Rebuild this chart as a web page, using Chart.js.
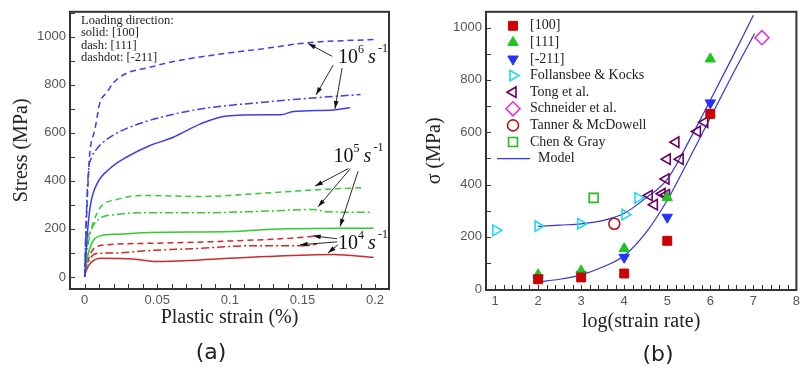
<!DOCTYPE html>
<html>
<head>
<meta charset="utf-8">
<script src="https://cdn.jsdelivr.net/npm/chart.js@4/dist/chart.umd.min.js"></script>
<style>
  html, body { margin: 0; padding: 0; background: #fff; }
  #wrap { position: relative; width: 805px; height: 369px; overflow: hidden; }
  canvas { position: absolute; top: 0; }
</style>
</head>
<body>
<div id="wrap">
  <canvas id="chartA" width="405" height="369" style="left:0"></canvas>
  <canvas id="chartB" width="400" height="369" style="left:405px"></canvas>
</div>
<script>
// ---- panel (a): stress vs plastic strain ----
const strainMajor = [0, 0.05, 0.1, 0.15, 0.2];
const stressMajor = [0, 200, 400, 600, 800, 1000];

const blueDashX = [0, 0.001, 0.0025, 0.0034, 0.0071, 0.0105, 0.0152, 0.0197, 0.029, 0.0427, 0.061, 0.0886, 0.125, 0.153, 0.199];
const blueDashY = [0, 200, 410, 506, 615, 725, 766, 807, 848, 869, 896, 923, 951, 974, 988];
const blueDashdotX = [0, 0.001, 0.0025, 0.005, 0.008, 0.0105, 0.0197, 0.0335, 0.0519, 0.079, 0.125, 0.16, 0.19];
const blueDashdotY = [0, 230, 430, 500, 530, 548, 590, 629, 663, 698, 728, 746, 759];
const blueSolidX = [0, 0.002, 0.004, 0.0083, 0.0174, 0.029, 0.045, 0.061, 0.0794, 0.0978, 0.125, 0.135, 0.1437, 0.1713, 0.1828];
const blueSolidY = [0, 190, 300, 385, 451, 499, 547, 581, 636, 670, 675, 675, 688, 695, 704];

const greenDashX = [0, 0.0014, 0.0048, 0.0105, 0.022, 0.0404, 0.0794, 0.125, 0.16, 0.193];
const greenDashY = [0, 123, 205, 287, 322, 339, 335, 349, 363, 372];
const greenDashdotX = [0, 0.002, 0.004, 0.0083, 0.022, 0.04, 0.079, 0.125, 0.1575, 0.167, 0.198];
const greenDashdotY = [0, 120, 185, 233, 260, 267, 267, 274, 281, 271, 269];
const greenSolidX = [0, 0.0014, 0.0037, 0.0105, 0.022, 0.045, 0.102, 0.125, 0.199];
const greenSolidY = [0, 62, 123, 171, 178, 185, 189, 198, 203];

const redDashX = [0, 0.003, 0.0059, 0.0152, 0.045, 0.102, 0.148, 0.16];
const redDashY = [20, 80, 116, 134, 140, 150, 164, 171];
const redDashdotX = [0, 0.003, 0.0083, 0.022, 0.045, 0.079, 0.114, 0.152, 0.16];
const redDashdotY = [20, 70, 98, 100, 110, 119, 130, 130, 137];
const redSolidX = [0, 0.003, 0.0059, 0.0105, 0.0335, 0.0496, 0.0794, 0.125, 0.171, 0.199];
const redSolidY = [10, 50, 68, 78, 75, 64, 71, 85, 93, 82];

const loadingNotes = ['Loading direction:', 'solid: [100]', 'dash: [111]', 'dashdot: [-211]'];
const rateExps = ['6', '5', '4'];
const rateLabelAt = [[0.1745, 889], [0.1713, 479], [0.1745, 116]];
// arrows: [fromX, fromY, toX, toY] in data units
const rateArrows = [
  [0.1704, 918, 0.1539, 971], [0.1711, 881, 0.1594, 758], [0.1773, 869, 0.1724, 700],
  [0.1816, 451, 0.1587, 378], [0.1830, 451, 0.1608, 292], [0.1883, 440, 0.1759, 210],
  [0.1738, 159, 0.1573, 171], [0.1738, 146, 0.1483, 134], [0.1745, 134, 0.1676, 100]
];

// ---- panel (b): flow stress vs log(strain rate) ----
const rateMajor = [1, 2, 3, 4, 5, 6, 7, 8];
const sigmaMajor = [0, 200, 400, 600, 800, 1000];

const s100X = [2, 3, 4, 5, 6];
const s100Y = [38, 45, 60, 185, 670];
const s111X = [2, 3, 4, 5, 6];
const s111Y = [55, 70, 155, 350, 880];
const s211X = [2, 3, 4, 5, 6];
const s211Y = [42, 55, 122, 275, 712];
const follX = [1.02, 2.0, 2.99, 4.02, 4.32];
const follY = [225, 241, 250, 285, 349];
const tongX = [4.58, 4.7, 4.88, 4.98, 4.97, 5.0, 5.2, 5.3, 5.7, 5.87];
const tongY = [358, 323, 365, 361, 421, 497, 562, 497, 603, 638];
const schnX = [7.2];
const schnY = [961];
const tannerX = [3.77];
const tannerY = [250];
const chenX = [3.29];
const chenY = [349];
const modelUpX = [2, 2.5, 3, 3.5, 4, 4.5, 5, 5.5, 6, 6.5, 7];
const modelUpY = [240, 245, 250, 262, 290, 348, 420, 565, 722, 882, 1047];
const modelLoX = [2, 2.5, 3, 3.5, 4, 4.5, 5, 5.5, 6, 6.5, 7.03];
const modelLoY = [28, 38, 55, 85, 128, 215, 340, 495, 655, 815, 977];

const pts = (xs, ys) => xs.map((x, i) => ({ x, y: ys[i] }));

const serif = '"Liberation Serif", "Times New Roman", serif';
const tickFont = { family: '"Liberation Sans", Arial, sans-serif', size: 13 };
const BLUE = '#3c3cf0', GREEN = '#2ecc2e', RED = '#cc2a2a';
const DASH = [6, 4], DASHDOT = [8, 3, 2, 3];

function tickList(min, max, step) {
  const out = [];
  for (let i = Math.round(min / step); i * step <= max + 1e-9; i++) out.push(Math.round(i * step * 1000) / 1000);
  return out;
}

// box + inward ticks on left and bottom axes
const frame = {
  id: 'frame',
  afterDatasetsDraw(chart) {
    const { ctx, chartArea: a, scales: { x, y } } = chart;
    ctx.save();
    ctx.strokeStyle = '#333';
    ctx.lineWidth = 1;
    ctx.beginPath();
    x.ticks.forEach(t => {
      const px = Math.round(x.getPixelForValue(t.value)) + 0.5;
      ctx.moveTo(px, a.bottom);
      ctx.lineTo(px, a.bottom - 5);
    });
    y.ticks.forEach(t => {
      const py = Math.round(y.getPixelForValue(t.value)) + 0.5;
      ctx.moveTo(a.left, py);
      ctx.lineTo(a.left + 5, py);
    });
    ctx.stroke();
    ctx.lineWidth = 2;
    ctx.strokeRect(a.left, a.top, a.right - a.left, a.bottom - a.top);
    ctx.restore();
  }
};

const panelLabel = {
  id: 'panelLabel',
  afterDraw(chart, args, opts) {
    const { ctx } = chart;
    ctx.save();
    ctx.fillStyle = '#222';
    ctx.font = '22px "DejaVu Sans", sans-serif';
    ctx.textAlign = 'center';
    ctx.textBaseline = 'middle';
    ctx.fillText(opts.text, opts.x, opts.y);
    ctx.restore();
  }
};

function arrow(ctx, x1, y1, x2, y2) {
  const ang = Math.atan2(y2 - y1, x2 - x1);
  ctx.beginPath();
  ctx.moveTo(x1, y1);
  ctx.lineTo(x2, y2);
  ctx.stroke();
  ctx.beginPath();
  ctx.moveTo(x2, y2);
  ctx.lineTo(x2 - 8 * Math.cos(ang - 0.3), y2 - 8 * Math.sin(ang - 0.3));
  ctx.lineTo(x2 - 8 * Math.cos(ang + 0.3), y2 - 8 * Math.sin(ang + 0.3));
  ctx.closePath();
  ctx.fill();
}

const notesA = {
  id: 'notesA',
  afterDatasetsDraw(chart) {
    const { ctx, chartArea: a, scales: { x, y } } = chart;
    ctx.save();
    ctx.fillStyle = '#222';
    ctx.font = '12.5px ' + serif;
    ctx.textBaseline = 'middle';
    loadingNotes.forEach((t, i) => ctx.fillText(t, a.left + 11, a.top + 9 + i * 12.3));

    ctx.strokeStyle = '#111';
    ctx.fillStyle = '#111';
    ctx.lineWidth = 0.9;
    rateArrows.forEach(r => arrow(ctx, x.getPixelForValue(r[0]), y.getPixelForValue(r[1]),
      x.getPixelForValue(r[2]), y.getPixelForValue(r[3])));

    ctx.textBaseline = 'alphabetic';
    rateExps.forEach((e, i) => {
      const px = x.getPixelForValue(rateLabelAt[i][0]);
      const py = y.getPixelForValue(rateLabelAt[i][1]);
      ctx.font = '20px ' + serif;
      ctx.fillText('10', px, py);
      ctx.font = '12px ' + serif;
      ctx.fillText(e, px + 20, py - 10);
      ctx.font = 'italic 20px ' + serif;
      ctx.fillText('s', px + 30, py);
      ctx.font = '12px ' + serif;
      ctx.fillText('-1', px + 40, py - 11);
    });
    ctx.restore();
  }
};

const legendB = {
  id: 'legendB',
  afterDatasetsDraw(chart) {
    const { ctx, chartArea: a } = chart;
    ctx.save();
    ctx.font = '14px ' + serif;
    ctx.textBaseline = 'middle';
    chart.data.datasets.filter(d => !d.hideInLegend).forEach((ds, i) => {
      const cy = a.top + 14 + i * 16.6;
      const mx = a.left + 27;
      if (ds.showLine) {
        ctx.strokeStyle = ds.borderColor;
        ctx.lineWidth = 1.2;
        ctx.beginPath();
        ctx.moveTo(a.left + 11, cy);
        ctx.lineTo(a.left + 44, cy);
        ctx.stroke();
        ctx.fillStyle = '#222';
        ctx.fillText(ds.label, a.left + 52, cy);
        return;
      }
      ctx.strokeStyle = ds.borderColor;
      ctx.fillStyle = ds.pointBackgroundColor;
      ctx.lineWidth = ds.borderWidth;
      Chart.helpers.drawPoint(ctx, {
        pointStyle: ds.pointStyle, rotation: ds.pointRotation || 0,
        radius: ds.pointRadius, borderWidth: ds.borderWidth
      }, mx, cy);
      ctx.fillStyle = '#222';
      ctx.fillText(ds.label, a.left + 44, cy);
    });
    ctx.restore();
  }
};

function lineSet(xs, ys, color, dash) {
  return { data: pts(xs, ys), borderColor: color, borderWidth: 1.5, borderDash: dash,
           pointRadius: 0, fill: false, cubicInterpolationMode: 'monotone' };
}

new Chart(document.getElementById('chartA'), {
  type: 'line',
  data: {
    datasets: [
      lineSet(blueDashX, blueDashY, BLUE, DASH),
      lineSet(blueDashdotX, blueDashdotY, BLUE, DASHDOT),
      lineSet(blueSolidX, blueSolidY, BLUE, []),
      lineSet(greenDashX, greenDashY, GREEN, DASH),
      lineSet(greenDashdotX, greenDashdotY, GREEN, DASHDOT),
      lineSet(greenSolidX, greenSolidY, GREEN, []),
      lineSet(redDashX, redDashY, RED, DASH),
      lineSet(redDashdotX, redDashdotY, RED, DASHDOT),
      lineSet(redSolidX, redSolidY, RED, [])
    ]
  },
  options: {
    responsive: false,
    animation: false,
    layout: { padding: { left: 0, top: 8, right: 16, bottom: 0 } },
    plugins: {
      legend: { display: false },
      tooltip: { enabled: false },
      panelLabel: { text: '(a)', x: 211, y: 353 }
    },
    scales: {
      x: {
        type: 'linear', min: -0.0101, max: 0.2096,
        grid: { display: false, drawTicks: false },
        border: { display: false },
        afterBuildTicks: s => { s.ticks = tickList(0, 0.2, 0.01).map(value => ({ value })); },
        afterFit: s => { s.height = 80; },
        ticks: { autoSkip: false, maxRotation: 0, padding: 4, color: '#555', font: tickFont,
                 callback: v => strainMajor.includes(v) ? String(v) : '' },
        title: { display: true, text: 'Plastic strain (%)', color: '#222',
                 font: { family: serif, size: 20 }, padding: { top: 0, bottom: 39 } }
      },
      y: {
        type: 'linear', min: -50, max: 1103,
        grid: { display: false, drawTicks: false },
        border: { display: false },
        afterBuildTicks: s => { s.ticks = tickList(0, 1100, 100).map(value => ({ value })); },
        afterFit: s => { s.width = 70; },
        ticks: { autoSkip: false, padding: 4, color: '#555', font: tickFont,
                 callback: v => stressMajor.includes(v) ? String(v) : '' },
        title: { display: true, text: 'Stress (MPa)', color: '#222',
                 font: { family: serif, size: 20 }, padding: { top: 10, bottom: 0 } }
      }
    }
  },
  plugins: [frame, notesA, panelLabel]
});

function markerSet(label, xs, ys, style, color, filled, radius, rot) {
  return { type: 'scatter', label, data: pts(xs, ys), pointStyle: style, pointRotation: rot || 0,
           pointRadius: radius, borderColor: color, backgroundColor: filled ? color : 'rgba(0,0,0,0)',
           pointBackgroundColor: filled ? color : 'rgba(0,0,0,0)', borderWidth: filled ? 1 : 1.6 };
}

new Chart(document.getElementById('chartB'), {
  type: 'scatter',
  data: {
    datasets: [
      markerSet('[100]', s100X, s100Y, 'rect', '#cc0000', true, 6.3),
      markerSet('[111]', s111X, s111Y, 'triangle', '#1fc41f', true, 6),
      markerSet('[-211]', s211X, s211Y, 'triangle', '#2233ff', true, 6, 180),
      markerSet('Follansbee & Kocks', follX, follY, 'triangle', '#22d8ee', false, 6, 90),
      markerSet('Tong et al.', tongX, tongY, 'triangle', '#660066', false, 6, 270),
      markerSet('Schneider et al.', schnX, schnY, 'rectRot', '#e030e0', false, 7),
      markerSet('Tanner & McDowell', tannerX, tannerY, 'circle', '#b01818', false, 5.5),
      markerSet('Chen & Gray', chenX, chenY, 'rect', '#22bb22', false, 6.3),
      { type: 'line', label: 'Model', data: pts(modelUpX, modelUpY), showLine: true, borderColor: '#3333dd',
        borderWidth: 1.2, pointRadius: 0, cubicInterpolationMode: 'monotone' },
      { type: 'line', label: '', data: pts(modelLoX, modelLoY), showLine: true, borderColor: '#3333dd',
        borderWidth: 1.2, pointRadius: 0, cubicInterpolationMode: 'monotone', hideInLegend: true }
    ]
  },
  options: {
    responsive: false,
    animation: false,
    layout: { padding: { left: 0, top: 10, right: 1, bottom: 0 } },
    plugins: {
      legend: { display: false },
      tooltip: { enabled: false },
      panelLabel: { text: '(b)', x: 253, y: 355 }
    },
    scales: {
      x: {
        type: 'linear', min: 0.79, max: 8.0,
        grid: { display: false, drawTicks: false },
        border: { display: false },
        afterBuildTicks: s => { s.ticks = tickList(0.8, 8, 0.2).map(value => ({ value })); },
        afterFit: s => { s.height = 79; },
        ticks: { autoSkip: false, maxRotation: 0, padding: 4, color: '#555', font: tickFont,
                 callback: v => rateMajor.includes(v) ? String(v) : '' },
        title: { display: true, text: 'log(strain rate)', color: '#222',
                 font: { family: serif, size: 20 }, padding: { top: 0, bottom: 35 } }
      },
      y: {
        type: 'linear', min: -3, max: 1060,
        grid: { display: false, drawTicks: false },
        border: { display: false },
        afterBuildTicks: s => { s.ticks = tickList(0, 1000, 100).map(value => ({ value })); },
        afterFit: s => { s.width = 81; },
        ticks: { autoSkip: false, padding: 4, color: '#555', font: tickFont,
                 callback: v => sigmaMajor.includes(v) ? String(v) : '' },
        title: { display: true, text: 'σ (MPa)', color: '#222',
                 font: { family: serif, size: 20 }, padding: { top: 18, bottom: 0 } }
      }
    }
  },
  plugins: [frame, legendB, panelLabel]
});
</script>
</body>
</html>
